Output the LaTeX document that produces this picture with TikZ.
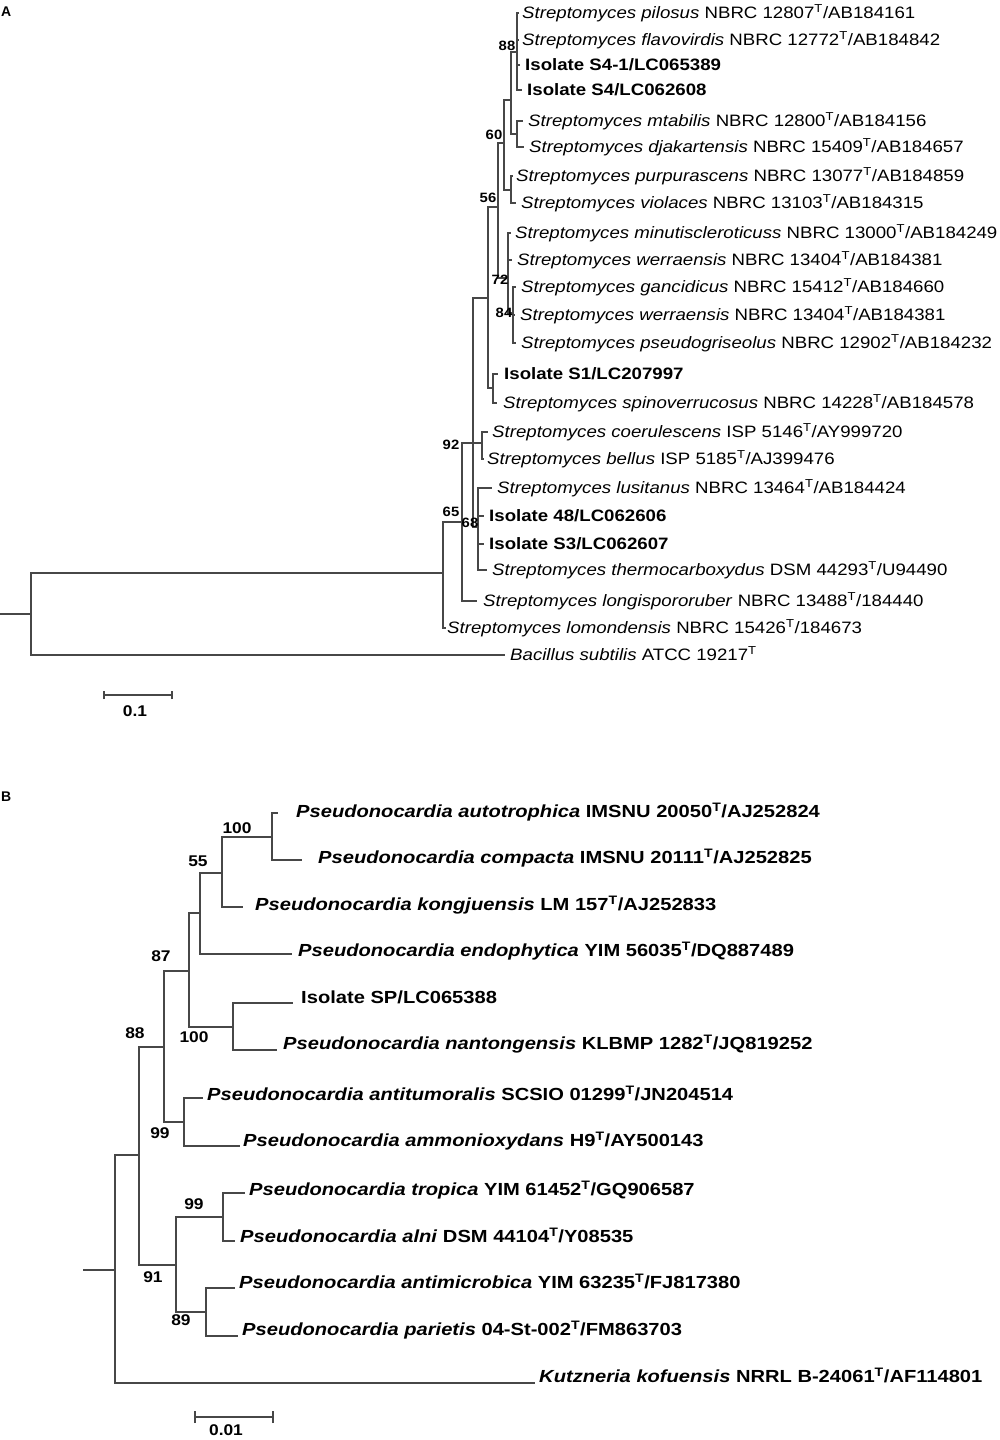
\documentclass[tikz,border=0pt]{standalone}
\usepackage{fontspec}
\setmainfont{Liberation Sans}
\newcommand\Tsup{\textsuperscript{T}}
\begin{document}
\begin{tikzpicture}[x=1pt,y=-1pt,
  br/.style={draw=black!72,line width=1.2pt},
  leafA/.style={anchor=mid west,inner sep=0pt,yshift=-3pt,font=\fontsize{16.5}{18}\selectfont,xscale=1.13},
  leafB/.style={anchor=mid west,inner sep=0pt,yshift=-4pt,font=\bfseries\fontsize{17.5}{19}\selectfont,xscale=1.15},
  bootA/.style={inner sep=0pt,font=\bfseries\fontsize{13.5}{14}\selectfont,xscale=1.1},
  bootB/.style={inner sep=0pt,font=\bfseries\fontsize{15.5}{16}\selectfont,xscale=1.12},
  panel/.style={inner sep=0pt,anchor=north west,font=\bfseries\fontsize{14}{15}\selectfont},
  sclab/.style={inner sep=0pt,font=\bfseries\fontsize{15.5}{16}\selectfont,xscale=1.12}]
\useasboundingbox[fill=white] (0,0) rectangle (1000,1440);

% ================= Panel A =================
\node[panel] (pA) at (1,7) {A};
% leaves (tip coordinates)
\coordinate (a1) at (519,13);
\coordinate (a2) at (519,40);
\coordinate (a3) at (520,65);
\coordinate (a4) at (522,90);
\coordinate (a5) at (523,121);
\coordinate (a6) at (524,147);
\coordinate (a7) at (513,176);
\coordinate (a8) at (516,203);
\coordinate (a9) at (511,233);
\coordinate (a10) at (512,260);
\coordinate (a11) at (516,287);
\coordinate (a12) at (515,315);
\coordinate (a13) at (516,343);
\coordinate (a14) at (498,374);
\coordinate (a15) at (497,403);
\coordinate (a16) at (488,432);
\coordinate (a17) at (484,459);
\coordinate (a18) at (492,488);
\coordinate (a19) at (484,516);
\coordinate (a20) at (484,544);
\coordinate (a21) at (487,570);
\coordinate (a22) at (477,601);
\coordinate (a23) at (446,628);
\coordinate (a24) at (505,655);
% internal nodes (x of vertical, y of stem)
\coordinate (nA88) at (517,52);
\coordinate (nAmt) at (517,134);
\coordinate (nA511) at (511,100);
\coordinate (nApu) at (511,190);
\coordinate (nA60) at (504,143);
\coordinate (nA84) at (513,313);
\coordinate (nA72) at (508,278);
\coordinate (nA56) at (498,207);
\coordinate (nAS1) at (493,388);
\coordinate (nA488) at (488,298);
\coordinate (nA482) at (482,443);
\coordinate (nA68) at (478,527);
\coordinate (nA92) at (473,443);
\coordinate (nA65) at (462,522);
\coordinate (nA443) at (443,573);
\coordinate (nAroot) at (31,614);
\coordinate (nAstub) at (0,614);
% branches
\foreach \c in {a1,a2,a3,a4} \draw[br] (nA88) |- (\c);
\foreach \c in {a5,a6} \draw[br] (nAmt) |- (\c);
\foreach \c in {nA88,nAmt} \draw[br] (nA511) |- (\c);
\foreach \c in {a7,a8} \draw[br] (nApu) |- (\c);
\foreach \c in {nA511,nApu} \draw[br] (nA60) |- (\c);
\foreach \c in {a11,a12,a13} \draw[br] (nA84) |- (\c);
\foreach \c in {a9,a10,nA84} \draw[br] (nA72) |- (\c);
\foreach \c in {nA60,nA72} \draw[br] (nA56) |- (\c);
\foreach \c in {a14,a15} \draw[br] (nAS1) |- (\c);
\foreach \c in {nA56,nAS1} \draw[br] (nA488) |- (\c);
\foreach \c in {a16,a17} \draw[br] (nA482) |- (\c);
\foreach \c in {a18,a19,a20,a21} \draw[br] (nA68) |- (\c);
\foreach \c in {nA488,nA482,nA68} \draw[br] (nA92) |- (\c);
\foreach \c in {nA92,a22} \draw[br] (nA65) |- (\c);
\foreach \c in {nA65,a23} \draw[br] (nA443) |- (\c);
\foreach \c in {nA443,a24} \draw[br] (nAroot) |- (\c);
\draw[br] (nAstub) -- (nAroot);
% labels
\node[leafA] (ta1) at (522,13) {\textit{Streptomyces pilosus} NBRC 12807\Tsup/AB184161};
\node[leafA] (ta2) at (522,40) {\textit{Streptomyces flavovirdis} NBRC 12772\Tsup/AB184842};
\node[leafA] (ta3) at (525,65) {\textbf{Isolate S4-1/LC065389}};
\node[leafA] (ta4) at (527,90) {\textbf{Isolate S4/LC062608}};
\node[leafA] (ta5) at (528,121) {\textit{Streptomyces mtabilis} NBRC 12800\Tsup/AB184156};
\node[leafA] (ta6) at (529,147) {\textit{Streptomyces djakartensis} NBRC 15409\Tsup/AB184657};
\node[leafA] (ta7) at (516,176) {\textit{Streptomyces purpurascens} NBRC 13077\Tsup/AB184859};
\node[leafA] (ta8) at (521,203) {\textit{Streptomyces violaces} NBRC 13103\Tsup/AB184315};
\node[leafA] (ta9) at (515,233) {\textit{Streptomyces minutiscleroticuss} NBRC 13000\Tsup/AB184249};
\node[leafA] (ta10) at (517,260) {\textit{Streptomyces werraensis} NBRC 13404\Tsup/AB184381};
\node[leafA] (ta11) at (521,287) {\textit{Streptomyces gancidicus} NBRC 15412\Tsup/AB184660};
\node[leafA] (ta12) at (520,315) {\textit{Streptomyces werraensis} NBRC 13404\Tsup/AB184381};
\node[leafA] (ta13) at (521,343) {\textit{Streptomyces pseudogriseolus} NBRC 12902\Tsup/AB184232};
\node[leafA] (ta14) at (504,374) {\textbf{Isolate S1/LC207997}};
\node[leafA] (ta15) at (503,403) {\textit{Streptomyces spinoverrucosus} NBRC 14228\Tsup/AB184578};
\node[leafA] (ta16) at (492,432) {\textit{Streptomyces coerulescens} ISP 5146\Tsup/AY999720};
\node[leafA] (ta17) at (487,459) {\textit{Streptomyces bellus} ISP 5185\Tsup/AJ399476};
\node[leafA] (ta18) at (497,488) {\textit{Streptomyces lusitanus} NBRC 13464\Tsup/AB184424};
\node[leafA] (ta19) at (489,516) {\textbf{Isolate 48/LC062606}};
\node[leafA] (ta20) at (489,544) {\textbf{Isolate S3/LC062607}};
\node[leafA] (ta21) at (492,570) {\textit{Streptomyces thermocarboxydus} DSM 44293\Tsup/U94490};
\node[leafA] (ta22) at (483,601) {\textit{Streptomyces longispororuber} NBRC 13488\Tsup/184440};
\node[leafA] (ta23) at (447,628) {\textit{Streptomyces lomondensis} NBRC 15426\Tsup/184673};
\node[leafA] (ta24) at (510,655) {\textit{Bacillus subtilis} ATCC 19217\Tsup};
% bootstrap
\node[bootA] (bA88) at (507,46) {88};
\node[bootA] (bA60) at (494,135) {60};
\node[bootA] (bA56) at (488,198) {56};
\node[bootA] (bA72) at (500,280) {72};
\node[bootA] (bA84) at (504,313) {84};
\node[bootA] (bA92) at (451,445) {92};
\node[bootA] (bA65) at (451,512) {65};
\node[bootA] (bA68) at (470,523) {68};
% scale bar A
\coordinate (sA1) at (104,695);
\coordinate (sA2) at (172,695);
\draw[br] (sA1) -- (sA2);
\draw[br] ([yshift=-4pt]sA1) -- ([yshift=4pt]sA1);
\draw[br] ([yshift=-4pt]sA2) -- ([yshift=4pt]sA2);
\node[sclab] (lA) at (135,711) {0.1};

% ================= Panel B =================
\node[panel] (pB) at (1,792) {B};
\coordinate (b1) at (278,813);
\coordinate (b2) at (302,860);
\coordinate (b3) at (243,907);
\coordinate (b4) at (292,954);
\coordinate (b5) at (293,1003);
\coordinate (b6) at (277,1050);
\coordinate (b7) at (203,1098);
\coordinate (b8) at (240,1146);
\coordinate (b9) at (245,1193);
\coordinate (b10) at (235,1241);
\coordinate (b11) at (235,1288);
\coordinate (b12) at (238,1336);
\coordinate (b13) at (535,1383);
\coordinate (nB100a) at (272,837);
\coordinate (nB55) at (222,873);
\coordinate (nBn) at (200,913);
\coordinate (nB100b) at (233,1027);
\coordinate (nB87) at (189,971);
\coordinate (nB99a) at (184,1122);
\coordinate (nB88) at (164,1047);
\coordinate (nB99b) at (223,1217);
\coordinate (nB89) at (206,1312);
\coordinate (nB91) at (176,1265);
\coordinate (nBm) at (139,1155);
\coordinate (nBroot) at (115,1270);
\coordinate (nBstub) at (83,1270);
\foreach \c in {b1,b2} \draw[br] (nB100a) |- (\c);
\foreach \c in {nB100a,b3} \draw[br] (nB55) |- (\c);
\foreach \c in {nB55,b4} \draw[br] (nBn) |- (\c);
\foreach \c in {b5,b6} \draw[br] (nB100b) |- (\c);
\foreach \c in {nBn,nB100b} \draw[br] (nB87) |- (\c);
\foreach \c in {b7,b8} \draw[br] (nB99a) |- (\c);
\foreach \c in {nB87,nB99a} \draw[br] (nB88) |- (\c);
\foreach \c in {b9,b10} \draw[br] (nB99b) |- (\c);
\foreach \c in {b11,b12} \draw[br] (nB89) |- (\c);
\foreach \c in {nB99b,nB89} \draw[br] (nB91) |- (\c);
\foreach \c in {nB88,nB91} \draw[br] (nBm) |- (\c);
\foreach \c in {nBm,b13} \draw[br] (nBroot) |- (\c);
\draw[br] (nBstub) -- (nBroot);
\node[leafB] (tb1) at (296,811) {\textit{Pseudonocardia autotrophica} IMSNU 20050\Tsup/AJ252824};
\node[leafB] (tb2) at (318,857) {\textit{Pseudonocardia compacta} IMSNU 20111\Tsup/AJ252825};
\node[leafB] (tb3) at (255,904) {\textit{Pseudonocardia kongjuensis} LM 157\Tsup/AJ252833};
\node[leafB] (tb4) at (298,950) {\textit{Pseudonocardia endophytica} YIM 56035\Tsup/DQ887489};
\node[leafB] (tb5) at (301,997) {Isolate SP/LC065388};
\node[leafB] (tb6) at (283,1043) {\textit{Pseudonocardia nantongensis} KLBMP 1282\Tsup/JQ819252};
\node[leafB] (tb7) at (207,1094) {\textit{Pseudonocardia antitumoralis} SCSIO 01299\Tsup/JN204514};
\node[leafB] (tb8) at (243,1140) {\textit{Pseudonocardia ammonioxydans} H9\Tsup/AY500143};
\node[leafB] (tb9) at (249,1189) {\textit{Pseudonocardia tropica} YIM 61452\Tsup/GQ906587};
\node[leafB] (tb10) at (240,1236) {\textit{Pseudonocardia alni} DSM 44104\Tsup/Y08535};
\node[leafB] (tb11) at (239,1282) {\textit{Pseudonocardia antimicrobica} YIM 63235\Tsup/FJ817380};
\node[leafB] (tb12) at (242,1329) {\textit{Pseudonocardia parietis} 04-St-002\Tsup/FM863703};
\node[leafB] (tb13) at (539,1376) {\textit{Kutzneria kofuensis} NRRL B-24061\Tsup/AF114801};
\node[bootB] (bB100a) at (237,828) {100};
\node[bootB] (bB55) at (198,861) {55};
\node[bootB] (bB87) at (161,956) {87};
\node[bootB] (bB100b) at (194,1037) {100};
\node[bootB] (bB88) at (135,1033) {88};
\node[bootB] (bB99a) at (160,1133) {99};
\node[bootB] (bB99b) at (194,1204) {99};
\node[bootB] (bB91) at (153,1277) {91};
\node[bootB] (bB89) at (181,1320) {89};
\coordinate (sB1) at (195,1417);
\coordinate (sB2) at (273,1417);
\draw[br] (sB1) -- (sB2);
\draw[br] ([yshift=-6pt]sB1) -- ([yshift=6pt]sB1);
\draw[br] ([yshift=-6pt]sB2) -- ([yshift=6pt]sB2);
\node[sclab] (lB) at (226,1430) {0.01};
\end{tikzpicture}
\end{document}
